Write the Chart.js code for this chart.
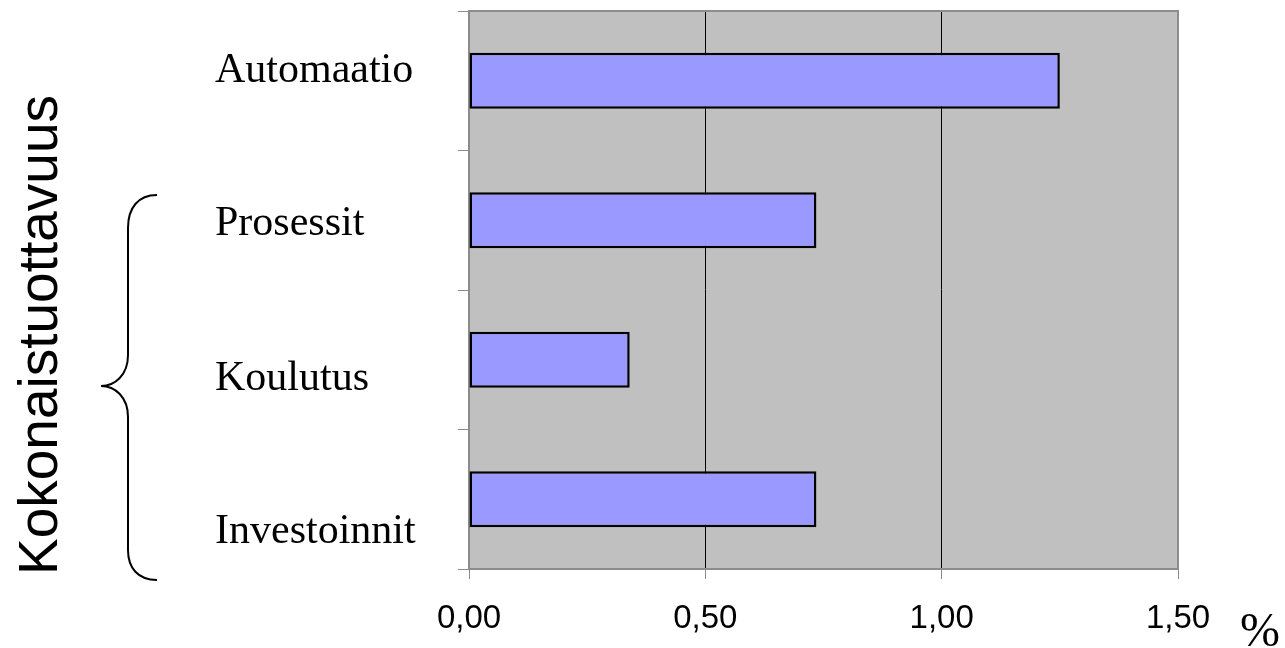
<!DOCTYPE html>
<html>
<head>
<meta charset="utf-8">
<script src="https://cdn.jsdelivr.net/npm/chart.js@4"></script>
<style>
  html, body { margin: 0; padding: 0; background: #fff; }
  #wrap { width: 1285px; height: 648px; }
</style>
</head>
<body>
<div id="wrap"><canvas id="myChart" width="1285" height="648"></canvas></div>
<script>
// data
var categories = ["Automaatio", "Prosessit", "Koulutus", "Investoinnit"];
var values = [1.25, 0.735, 0.34, 0.735];
var xTicks = [0, 0.5, 1.0, 1.5];
var groupTitle = "Kokonaistuottavuus";
var unitLabel = "%";

// label baseline shift from the middle of each band (labels sit in their own boxes)
var labelShift = [1, 15, 30, 44];

// grey plot area + border
var plotBox = {
  id: "plotBox",
  beforeDraw: function (chart) {
    var a = chart.chartArea, ctx = chart.ctx;
    ctx.save();
    ctx.fillStyle = "#C0C0C0";
    ctx.fillRect(a.left, a.top, a.right - a.left, a.bottom - a.top);
    ctx.restore();
  },
  afterDatasetsDraw: function (chart) {
    var a = chart.chartArea, ctx = chart.ctx;
    ctx.save();
    ctx.strokeStyle = "#8c8c8c";
    ctx.lineWidth = 2;
    ctx.beginPath();
    ctx.moveTo(a.left, a.top);
    ctx.lineTo(a.right, a.top);
    ctx.lineTo(a.right, a.bottom);
    ctx.stroke();
    ctx.restore();
  }
};

// category names, the brace, the rotated group title and the % sign
var sideText = {
  id: "sideText",
  afterDraw: function (chart) {
    var ctx = chart.ctx, y = chart.scales.y, x = chart.scales.x;
    ctx.save();
    ctx.fillStyle = "#000";
    ctx.font = "42px 'Liberation Serif'";
    ctx.textAlign = "left";
    ctx.textBaseline = "alphabetic";
    categories.forEach(function (c, i) {
      ctx.fillText(c, 215, y.getPixelForValue(i) + labelShift[i]);
    });

    // brace
    ctx.strokeStyle = "#000";
    ctx.lineWidth = 2;
    ctx.beginPath();
    ctx.moveTo(157, 195);
    ctx.bezierCurveTo(138, 195, 128, 208, 128, 228);
    ctx.lineTo(128, 355);
    ctx.bezierCurveTo(128, 375, 115, 386, 101, 386);
    ctx.bezierCurveTo(115, 386, 128, 397, 128, 417);
    ctx.lineTo(128, 550);
    ctx.bezierCurveTo(128, 568, 138, 580, 157, 580);
    ctx.stroke();

    // rotated title
    ctx.save();
    ctx.translate(57, 335);
    ctx.rotate(-Math.PI / 2);
    ctx.font = "55px 'Liberation Sans'";
    ctx.textAlign = "center";
    ctx.fillText(groupTitle, 0, 0);
    ctx.restore();

    // unit
    ctx.font = "48px 'Liberation Serif'";
    ctx.textAlign = "center";
    ctx.fillText(unitLabel, x.right + 82, 646);
    ctx.restore();
  }
};

var myChart = new Chart(document.getElementById("myChart"), {
  type: "bar",
  data: {
    labels: categories,
    datasets: [{
      data: values,
      backgroundColor: "#9999FF",
      borderColor: "#000000",
      borderWidth: 2.5,
      borderSkipped: false,
      barPercentage: 0.4,
      categoryPercentage: 1.0
    }]
  },
  options: {
    indexAxis: "y",
    responsive: false,
    animation: false,
    layout: { padding: { left: 458, top: 11, right: 107, bottom: 0 } },
    plugins: {
      legend: { display: false },
      tooltip: { enabled: false }
    },
    scales: {
      x: {
        min: 0,
        max: 1.5,
        afterBuildTicks: function (axis) {
          axis.ticks = xTicks.map(function (v) { return { value: v }; });
        },
        afterFit: function (axis) {
          axis.height = 79;
        },
        border: { color: "#8c8c8c", width: 2 },
        grid: {
          color: function (c) {
            return (c.tick && c.tick.value > 0 && c.tick.value < 1.5) ? "#000" : "rgba(0,0,0,0)";
          },
          tickColor: "#8c8c8c",
          tickLength: 10,
          lineWidth: 1
        },
        ticks: {
          color: "#000",
          padding: 20,
          font: { family: "'Liberation Sans'", size: 33 },
          callback: function (v) { return Number(v).toFixed(2).replace(".", ","); }
        }
      },
      y: {
        border: { color: "#8c8c8c", width: 2 },
        grid: {
          drawOnChartArea: false,
          tickColor: "#8c8c8c",
          tickLength: 11,
          offset: true
        },
        ticks: { display: false }
      }
    }
  },
  plugins: [plotBox, sideText]
});
</script>
</body>
</html>
